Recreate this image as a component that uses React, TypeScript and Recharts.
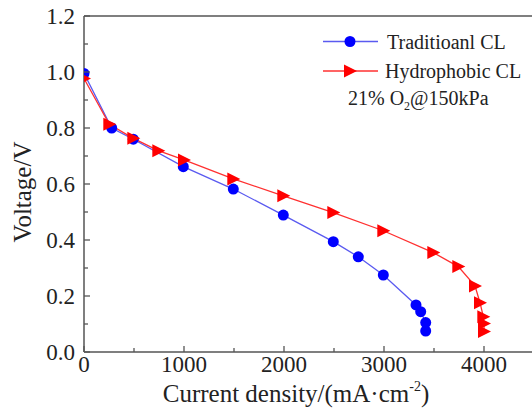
import React from "react";
import { LineChart, Line, XAxis, YAxis, ReferenceLine } from "recharts";

const traditionalX = [0, 277, 493, 993, 1493, 1993, 2493, 2743, 2993, 3320, 3367, 3417, 3417];
const traditionalV = [0.995, 0.8, 0.76, 0.662, 0.582, 0.489, 0.394, 0.34, 0.275, 0.168, 0.144, 0.105, 0.075];
const hydrophobicX = [0, 253, 493, 743, 1000, 1493, 1993, 2493, 2993, 3493, 3743, 3910, 3960, 3993, 4000, 4000];
const hydrophobicV = [0.977, 0.813, 0.763, 0.719, 0.686, 0.618, 0.558, 0.498, 0.433, 0.355, 0.305, 0.236, 0.176, 0.126, 0.102, 0.073];

const xTicks = [0, 500, 1000, 1500, 2000, 2500, 3000, 3500, 4000, 4500];
const xMajor = [0, 1000, 2000, 3000, 4000];
const yTicks = [0, 0.1, 0.2, 0.3, 0.4, 0.5, 0.6, 0.7, 0.8, 0.9, 1.0, 1.1, 1.2];
const yMajor = [0, 0.2, 0.4, 0.6, 0.8, 1.0, 1.2];

const traditional = traditionalX.map((x, i) => ({ x, v: traditionalV[i] }));
const hydrophobic = hydrophobicX.map((x, i) => ({ x, v: hydrophobicV[i] }));

const FONT = "'Liberation Serif', 'Times New Roman', serif";
const AXIS = "#555";
const BLUE_LINE = "#5a5af0";
const BLUE = "#0000ff";
const RED_LINE = "#ff3030";
const RED = "#ff0000";

const isMajor = (v: number, list: number[]) => list.some((m) => Math.abs(m - v) < 1e-6);

const XTick = (props: any) => {
  const { x, y, payload } = props;
  const major = isMajor(payload.value, xMajor);
  return (
    <g>
      <line x1={x} x2={x} y1={y} y2={y - (major ? 6 : 4)} stroke={AXIS} strokeWidth={1.3} />
      {major && (
        <text x={x} y={y + 20} textAnchor="middle" fontFamily={FONT} fontSize={23} fill="#222">
          {payload.value}
        </text>
      )}
    </g>
  );
};

const YTick = (props: any) => {
  const { x, y, payload } = props;
  const major = isMajor(payload.value, yMajor);
  return (
    <g>
      <line x1={x} x2={x + (major ? 6 : 4)} y1={y} y2={y} stroke={AXIS} strokeWidth={1.3} />
      {major && (
        <text x={x - 9} y={y + 8} textAnchor="end" fontFamily={FONT} fontSize={23} fill="#222">
          {payload.value.toFixed(1)}
        </text>
      )}
    </g>
  );
};

const Circle = (props: any) => {
  const { cx, cy, index } = props;
  if (cx == null || cy == null) return <g key={index} />;
  return <circle key={index} cx={cx} cy={cy} r={5.5} fill={BLUE} />;
};

const Tri = (props: any) => {
  const { cx, cy, index } = props;
  if (cx == null || cy == null) return <g key={index} />;
  return (
    <polygon
      key={index}
      points={`${cx - 6},${cy - 6.5} ${cx + 7},${cy} ${cx - 6},${cy + 6.5}`}
      fill={RED}
    />
  );
};

export default function App() {
  return (
    <div style={{ position: "absolute", left: 0, top: 0, width: 532, height: 410, overflow: "hidden", background: "#fff" }}>
      <LineChart width={540} height={410} margin={{ top: 16, right: 6, bottom: 0, left: 0 }}>
        <XAxis
          type="number"
          dataKey="x"
          domain={[0, 4500]}
          ticks={xTicks}
          interval={0}
          allowDataOverflow
          height={58}
          tickSize={0}
          tickMargin={0}
          tickLine={false}
          tick={<XTick />}
          axisLine={{ stroke: AXIS, strokeWidth: 1.5 }}
        />
        <YAxis
          type="number"
          dataKey="v"
          domain={[0, 1.2]}
          ticks={yTicks}
          interval={0}
          allowDataOverflow
          width={84}
          tickSize={0}
          tickMargin={0}
          tickLine={false}
          tick={<YTick />}
          axisLine={{ stroke: AXIS, strokeWidth: 1.5 }}
        />
        <ReferenceLine y={1.2} stroke={AXIS} strokeWidth={1.5} />
        <ReferenceLine x={4500} stroke={AXIS} strokeWidth={1.5} />
        <Line
          data={traditional}
          dataKey="v"
          stroke={BLUE_LINE}
          strokeWidth={1.3}
          dot={<Circle />}
          isAnimationActive={false}
          legendType="none"
        />
        <Line
          data={hydrophobic}
          dataKey="v"
          stroke={RED_LINE}
          strokeWidth={1.3}
          dot={<Tri />}
          isAnimationActive={false}
          legendType="none"
        />
      </LineChart>
      <svg width={532} height={410} style={{ position: "absolute", left: 0, top: 0, pointerEvents: "none" }}>
        <text x={31} y={192} transform="rotate(-90 31 192)" textAnchor="middle" fontFamily={FONT} fontSize={25} fill="#222">
          Voltage/V
        </text>
        <text x={296} y={402} textAnchor="middle" fontFamily={FONT} fontSize={25} fill="#222">
          Current density/(mA·cm
          <tspan fontSize={14} dy={-11}>-2</tspan>
          <tspan dy={11}>)</tspan>
        </text>
        <line x1={323} x2={378} y1={41.5} y2={41.5} stroke={BLUE_LINE} strokeWidth={1.3} />
        <circle cx={350} cy={41.5} r={5.5} fill={BLUE} />
        <text x={387} y={49} fontFamily={FONT} fontSize={20} fill="#222">Traditioanl CL</text>
        <line x1={323} x2={378} y1={71} y2={71} stroke={RED_LINE} strokeWidth={1.3} />
        <polygon points="344,64.5 357,71 344,77.5" fill={RED} />
        <text x={385} y={78} fontFamily={FONT} fontSize={20} fill="#222">Hydrophobic CL</text>
        <text x={348} y={105} fontFamily={FONT} fontSize={20} fill="#222">
          21% O
          <tspan fontSize={12} dy={5}>2</tspan>
          <tspan dy={-5}>@150kPa</tspan>
        </text>
      </svg>
    </div>
  );
}
